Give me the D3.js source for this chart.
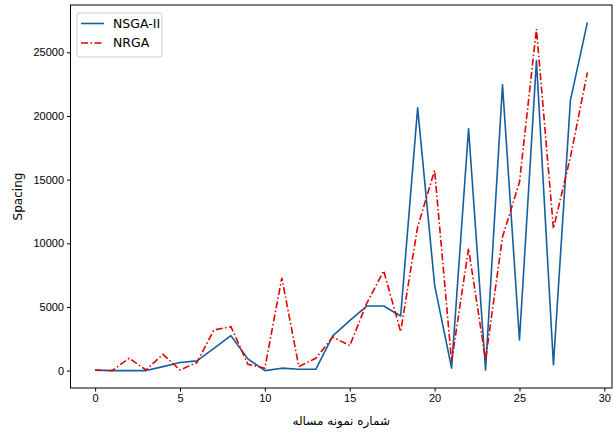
<!DOCTYPE html>
<html>
<head>
<meta charset="utf-8">
<script src="https://cdn.jsdelivr.net/npm/d3@7"></script>
<style>
  body { margin: 0; background: #fff; }
  svg { display: block; font-family: "DejaVu Sans", sans-serif; }
  .axis text { font-size: 11px; fill: #000; }
  .axis path, .axis line { stroke: #000; }
</style>
</head>
<body>
<div id="chart"></div>
<script>
// problem instance index 0..29
const instances = d3.range(30);
const nsga2 = [30, 0, 0, 0, 310, 630, 760, 1750, 2740, 920,
               0, 190, 100, 100, 2720, 3920, 5070, 5070, 4290, 20640,
               6720, 190, 19000, 55, 22440, 2400, 24350, 450, 21220, 27350];
const nrga = [50, 0, 970, 50, 1280, 50, 630, 3190, 3450, 500,
              190, 7290, 310, 970, 2640, 1960, 5280, 7840, 3060, 11290,
              15730, 710, 9590, 840, 10500, 14810, 26830, 11160, 16770, 23430];
const xTicks = [0, 5, 10, 15, 20, 25, 30];
const yTicks = [0, 5000, 10000, 15000, 20000, 25000];

const width = 614;
const height = 436;
const margin = {top: 5, right: 2, bottom: 48, left: 70.5};

const svg = d3.select("#chart").append("svg")
    .attr("width", width)
    .attr("height", height);

// matplotlib style 5% margins on both axes
const xPad = (d3.max(instances) - d3.min(instances)) * 0.05;
const allVals = nsga2.concat(nrga);
const yPad = (d3.max(allVals) - d3.min(allVals)) * 0.05;

const x = d3.scaleLinear()
    .domain([d3.min(instances) - xPad, d3.max(instances) + xPad])
    .range([margin.left, width - margin.right]);
const y = d3.scaleLinear()
    .domain([d3.min(allVals) - yPad, d3.max(allVals) + yPad])
    .range([height - margin.bottom, margin.top]);

svg.append("g")
    .attr("class", "axis")
    .attr("transform", `translate(0,${height - margin.bottom})`)
    .call(d3.axisBottom(x).tickValues(xTicks).tickSize(3.5).tickPadding(3).tickFormat(d3.format("d")))
    .call(g => g.select(".domain").remove());

svg.append("g")
    .attr("class", "axis")
    .attr("transform", `translate(${margin.left},0)`)
    .call(d3.axisLeft(y).tickValues(yTicks).tickSize(3.5).tickPadding(3).tickFormat(d3.format("d")))
    .call(g => g.select(".domain").remove());

// frame
svg.append("rect")
    .attr("x", margin.left)
    .attr("y", margin.top)
    .attr("width", width - margin.right - margin.left)
    .attr("height", height - margin.bottom - margin.top)
    .attr("fill", "none")
    .attr("stroke", "#000")
    .attr("stroke-width", 1);

const line = (vals) => d3.line()
    .x((d, i) => x(instances[i]))
    .y(d => y(d))(vals);

svg.append("path")
    .attr("d", line(nsga2))
    .attr("fill", "none")
    .attr("stroke", "#155f9e")
    .attr("stroke-width", 1.6)
    .attr("stroke-linejoin", "round");

svg.append("path")
    .attr("d", line(nrga))
    .attr("fill", "none")
    .attr("stroke", "#e00000")
    .attr("stroke-width", 1.6)
    .attr("stroke-dasharray", "7,2.5,1.5,2.5");

// axis labels
svg.append("text")
    .attr("transform", `translate(22,${(margin.top + height - margin.bottom) / 2}) rotate(-90)`)
    .attr("text-anchor", "middle")
    .style("font-size", "12px")
    .text("Spacing");

svg.append("text")
    .attr("x", (margin.left + width - margin.right) / 2)
    .attr("y", 425)
    .attr("text-anchor", "middle")
    .style("font-size", "12px")
    .text("شماره نمونه مساله");

// legend
const legend = svg.append("g").attr("transform", "translate(77,13)");
legend.append("rect")
    .attr("width", 85)
    .attr("height", 44)
    .attr("rx", 2)
    .attr("fill", "#fff")
    .attr("stroke", "#ccc");

const entries = [
    {name: "NSGA-II", color: "#155f9e", dash: null},
    {name: "NRGA", color: "#e00000", dash: "7,2.5,1.5,2.5"}
];
const item = legend.selectAll("g.item")
    .data(entries)
    .enter()
    .append("g")
    .attr("class", "item")
    .attr("transform", (d, i) => `translate(0,${10.5 + i * 19.5})`);
item.append("line")
    .attr("x1", 4)
    .attr("x2", 27)
    .attr("stroke", d => d.color)
    .attr("stroke-width", 1.6)
    .attr("stroke-dasharray", d => d.dash);
item.append("text")
    .attr("x", 36)
    .attr("dy", ".35em")
    .style("font-size", "12.5px")
    .text(d => d.name);
</script>
</body>
</html>
